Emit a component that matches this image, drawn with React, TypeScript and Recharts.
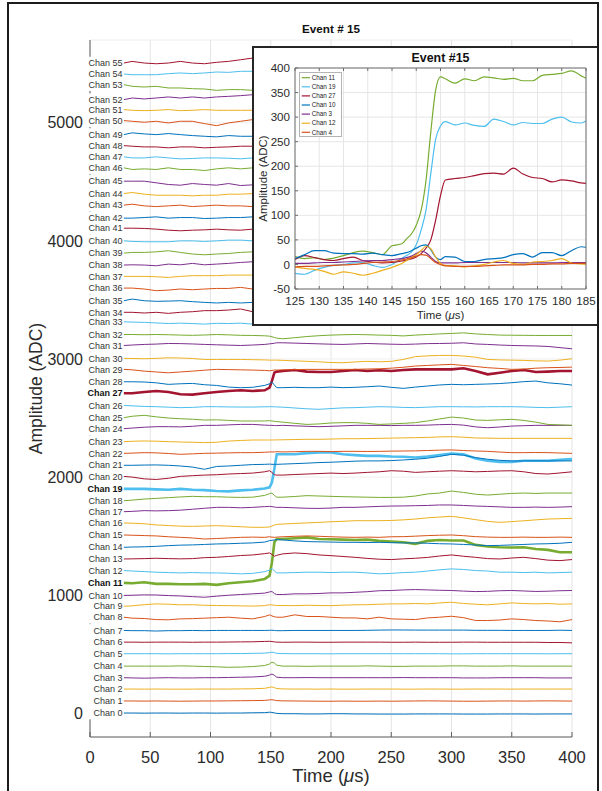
import React from 'react';
import { LineChart, Line, XAxis, YAxis, CartesianGrid, Legend } from 'recharts';

const FONT = '"Liberation Sans", Arial, Helvetica, sans-serif';
const INK = '#2b2b2b';
const AXIS = '#5f5f5f';

// MATLAB default colour order
const palette = ['#0072BD', '#D95319', '#EDB120', '#7E2F8E', '#77AC30', '#4DBEEE', '#A2142F'];

// Sample times (µs) shared by every channel trace
const times = [28, 35, 45, 55, 65, 75, 85, 95, 105, 115, 125, 135, 145, 149, 151, 153, 155, 160, 170, 180, 190, 200, 210, 220, 230, 240, 250, 260, 270, 280, 290, 300, 310, 320, 330, 340, 350, 360, 370, 380, 390, 400];

// Baseline-subtracted amplitude (ADC) per channel
const chan0 = [3, 3, 2, 3, 3, 2, 3, 3, 2, 3, 3, 5, 6, 10, 8, 4, 0, -3, -3, -5, -5, -3, -3, -5, -5, -6, -6, -6, -5, -5, -5, -5, -6, -6, -6, -5, -5, -5, -6, -5, -5, -5];
const chan1 = [5, 5, 4, 5, 4, 3, 4, 5, 5, 6, 7, 8, 10, 14, 16, 12, 8, 6, 5, 4, 3, 3, 4, 3, 3, 4, 3, 4, 5, 6, 5, 4, 3, 3, 4, 5, 5, 4, 5, 6, 5, 4];
const chan2 = [6, 6, 5, 6, 5, 5, 5, 6, 6, 6, 7, 8, 12, 20, 24, 18, 10, 7, 6, 6, 5, 6, 5, 5, 6, 6, 6, 5, 5, 6, 6, 5, 5, 6, 6, 6, 5, 6, 6, 6, 6, 6];
const chan3 = [2, 0, -2, 0, 2, 0, 0, 2, 2, 4, 6, 8, 14, 24, 33, 22, 6, 2, 2, 3, 2, 2, 2, 2, 2, 2, 2, 3, 2, 2, 2, 2, 0, 0, 0, 2, 2, 2, 2, 0, 0, 0];
const chan4 = [0, 0, 0, 0, 0, 2, 0, -3, -6, -10, -8, -4, 5, 18, 34, 26, 8, 0, 0, -2, 0, 0, 0, 0, 2, 0, -2, -2, 0, 0, 0, 2, 2, 0, 0, 0, 2, 0, 0, 0, 0, 0];
const chan5 = [5, 5, 5, 5, 4, 5, 5, 5, 5, 6, 6, 8, 10, 14, 18, 14, 8, 6, 5, 5, 5, 4, 5, 5, 5, 5, 5, 5, 5, 5, 5, 4, 4, 5, 5, 5, 5, 5, 5, 4, 5, 5];
const chan6 = [3, 3, 2, 3, 3, 3, 2, 3, 3, 4, 5, 6, 9, 10, 8, 5, 3, 2, 3, 3, 2, 2, 3, 3, 3, 3, 2, 2, 3, 2, 2, 2, 3, 3, 2, 2, 2, 2, 2, 0, 0, -3];
const chan7 = [2, 0, 0, -3, 0, 0, 2, 0, 2, 2, 2, 2, 2, 3, 4, 2, 0, 0, 2, 2, 2, 2, 2, 2, 3, 5, 6, 6, 5, 5, 5, 5, 5, 3, 3, 3, 2, 2, 2, 2, 4, 2];
const chan8 = [14, 6, 3, -6, -8, 0, 2, 6, 10, 14, 6, 0, 20, 34, 25, 18, 14, 14, 34, 20, 20, 14, 8, 8, 0, 14, 0, -3, -6, 8, 14, 22, 10, -14, -14, -10, 0, -6, -14, -18, -25, -6];
const chan9 = [7, 10, 20, 27, 24, 19, 20, 15, 13, 12, 10, 8, 12, 20, 18, 15, 13, 13, 12, 15, 13, 12, 16, 19, 20, 24, 27, 27, 30, 27, 35, 41, 30, 24, 19, 27, 35, 30, 27, 30, 24, 27];
const chan10 = [-2, 0, 3, 2, -3, -6, -12, -17, -8, 0, 6, 12, 18, 28, 31, 15, 6, 6, 12, 12, 15, 20, 20, 25, 30, 38, 40, 45, 48, 45, 42, 40, 35, 31, 33, 38, 40, 36, 32, 34, 38, 40];
const chan11 = [5, 2, 10, -4, -4, -7, -7, -4, -12, 2, 10, 18, 38, 66, 178, 348, 376, 376, 382, 390, 376, 374, 371, 368, 371, 360, 354, 349, 335, 360, 368, 363, 363, 326, 312, 306, 304, 306, 292, 284, 264, 264];
const chan12 = [9, 5, 0, -5, -8, -11, -8, -11, -11, -14, -19, -15, 0, 12, 28, 5, -11, -11, -8, -5, -5, -8, -5, -5, -11, -19, -15, -8, -5, 5, 15, 23, 18, 9, 5, -5, -5, -8, -5, -11, -8, -5];
const chan13 = [7, 8, 10, 13, 10, 8, 10, 18, 21, 28, 36, 41, 52, 58, 45, 30, 38, 50, 58, 52, 41, 35, 28, 21, 12, 5, 2, 8, 13, 20, 32, 41, 30, 21, 10, 7, 15, 21, 10, -3, -7, 2];
const chan14 = [6, 8, 10, 14, 20, 24, 26, 30, 34, 36, 40, 43, 50, 62, 65, 68, 71, 68, 60, 54, 52, 50, 48, 48, 46, 48, 45, 43, 43, 40, 36, 34, 30, 25, 20, 22, 26, 30, 34, 36, 40, 48];
const chan15 = [10, 8, 5, 2, -5, -10, -15, -24, -20, -15, -10, -8, -10, -5, -8, -10, -8, -5, -1, 2, -1, -5, -8, -10, -8, -10, -5, -4, 0, 5, 8, 10, 4, -4, -8, -10, -10, -8, -10, -10, -8, -10];
const chan16 = [12, 10, 5, -5, -10, -15, -17, -14, -11, -15, -20, -25, -25, -22, -15, -5, 0, 3, 8, 12, 17, 22, 26, 31, 31, 31, 33, 38, 45, 55, 62, 68, 55, 40, 25, 17, 23, 30, 38, 45, 48, 51];
const chan17 = [7, 10, 16, 14, 16, 20, 28, 36, 44, 44, 40, 44, 50, 52, 50, 46, 44, 44, 40, 36, 35, 38, 44, 44, 48, 52, 55, 56, 58, 60, 64, 64, 60, 55, 52, 48, 44, 44, 46, 44, 46, 50];
const chan18 = [0, 5, 14, 20, 26, 32, 37, 34, 34, 30, 28, 30, 45, 60, 65, 45, 30, 30, 36, 43, 40, 37, 34, 32, 30, 28, 28, 30, 40, 57, 65, 82, 70, 55, 48, 55, 62, 65, 62, 65, 65, 65];
const chan19 = [0, 0, 0, -4, -7, 0, -7, -10, -18, -21, -12, -7, 4, 13, 55, 170, 294, 294, 294, 303, 308, 308, 294, 286, 280, 280, 274, 272, 266, 274, 286, 300, 294, 258, 238, 229, 229, 238, 238, 238, 246, 252];
const chan20 = [6, 0, -15, -20, -10, 6, 12, 17, 20, 26, 30, 34, 45, 54, 40, 20, 17, 17, 22, 26, 30, 34, 30, 34, 40, 45, 54, 50, 40, 45, 50, 54, 50, 45, 48, 52, 54, 45, 30, 26, 35, 45];
const chan21 = [0, 0, 2, 3, 0, -6, -15, -34, -10, -6, 0, 6, 8, 10, 8, 8, 8, 10, 14, 18, 23, 26, 30, 35, 37, 37, 40, 45, 51, 60, 75, 93, 85, 65, 51, 42, 37, 37, 38, 37, 37, 37];
const chan22 = [1, 3, 7, 5, 0, -7, -3, 1, 3, 5, 7, 7, 10, 13, 13, 13, 15, 13, 15, 18, 18, 16, 18, 18, 17, 18, 20, 21, 22, 25, 28, 30, 25, 21, 18, 12, 7, 7, 8, 7, 4, 1];
const chan23 = [0, 3, 6, 4, 0, -3, -5, -8, -5, 5, 10, 14, 14, 14, 14, 15, 15, 16, 18, 20, 20, 22, 25, 25, 26, 28, 30, 32, 34, 36, 40, 42, 38, 31, 30, 28, 28, 28, 28, 28, 28, 28];
const chan24 = [10, 15, 22, 27, 27, 25, 30, 38, 38, 42, 46, 46, 40, 38, 38, 36, 36, 38, 34, 30, 27, 30, 34, 38, 38, 38, 36, 38, 38, 40, 44, 46, 40, 25, 18, 24, 32, 35, 38, 38, 38, 38];
const chan25 = [3, 15, 23, 10, 0, -6, -10, -17, -15, -20, -25, -25, -25, -22, -25, -28, -30, -35, -45, -54, -50, -42, -39, -39, -45, -54, -50, -45, -39, -25, -8, 8, 0, -17, -20, -15, -11, -20, -35, -54, -58, -62];
const chan26 = [7, 3, -2, -4, -8, -12, -10, -4, -4, -6, -7, -7, -5, -4, -4, -5, -6, -8, -15, -22, -26, -20, -14, -12, -8, -4, -6, -10, -12, -8, -4, -4, -5, -6, -4, -4, -4, -6, -10, -12, -8, -4];
const chan27 = [10, 10, 21, 29, 21, 1, -2, 10, 21, 29, 35, 29, 35, 57, 114, 184, 193, 198, 207, 193, 190, 190, 198, 207, 198, 204, 198, 207, 212, 212, 212, 212, 221, 198, 170, 184, 198, 207, 190, 193, 198, 198];
const chan28 = [7, 7, 5, -2, -15, -10, -7, -18, -24, -38, -43, -40, -24, -10, 5, -20, -43, -43, -40, -43, -43, -38, -43, -40, -35, -29, -40, -49, -38, -29, -20, -15, -18, -15, -12, -8, -1, 8, 13, -2, -10, -21];
const chan29 = [12, 8, -3, -10, -17, -10, -3, 5, 12, 10, 8, 6, 3, 0, 3, 6, 6, 8, 10, 12, 12, 12, 12, 12, 15, 17, 22, 30, 40, 45, 50, 54, 45, 36, 26, 20, 12, 15, 22, 26, 28, 31];
const chan30 = [5, 4, 2, 5, 10, 8, 4, -4, -4, -4, -4, -6, -8, -10, -10, -10, -10, -12, -16, -20, -24, -30, -32, -25, -20, -24, -20, -4, 20, 26, 30, 30, 25, 15, -4, -8, -10, -12, -16, -18, -10, 2];
const chan31 = [14, 18, 23, 26, 31, 30, 27, 23, 20, 17, 14, 18, 23, 28, 30, 33, 37, 37, 34, 31, 28, 25, 23, 27, 31, 28, 25, 23, 26, 30, 31, 33, 37, 27, 23, 18, 14, 12, 10, 6, -4, -14];
const chan32 = [7, 7, 5, 7, 5, 2, 0, 3, 7, 4, 0, -1, -4, -7, -12, -18, -24, -29, -20, -10, -3, 2, 5, 7, 5, 2, 0, -5, 2, 7, 12, 16, 21, 12, 7, 2, 1, 0, -1, -1, -1, -1];
const chan33 = [15, 12, 10, 5, 0, 3, 0, -5, 2, 0, 3, -5, -3, 0, 3, 0, -3, -5, -3, 0, 0, 2, 0, -3, 0, -2, 0, 2, 0, -3, -5, -8, -5, -3, -8, -15, -18, -15, -12, -15, -10, -5];
// Upper channels: early part of the record (28–145 µs)
const chan34 = [-5, -5, -11, -5, -14, -5, 0, 9, 9, 14, 23, 0, 3];
const chan35 = [-7, 7, -7, -12, -10, -7, -15, -21, -26, -21, -26, -21, -20];
const chan36 = [0, 0, -8, -22, -17, -8, -14, -8, -3, -3, 6, -8, -5];
const chan37 = [-1, -1, -1, -4, -10, -1, 5, 5, 5, 10, 10, 10, 8];
const chan38 = [-5, -3, -5, -11, 3, -3, 9, -3, 3, 9, 17, 23, 20];
const chan39 = [-4, 2, 2, 7, 16, 2, -12, -18, -12, -7, 2, 7, 5];
const chan40 = [0, -5, -8, -8, -8, 0, 0, -5, 0, 6, 6, 0, 0];
const chan41 = [7, 7, 5, -1, -10, -15, -10, -7, -1, -7, -10, -1, -3];
const chan42 = [-8, -8, -3, 3, -8, -3, -3, -11, -8, -3, -3, 3, 0];
const chan43 = [2, 10, -4, -10, -4, 2, -10, -4, 2, -4, -4, -10, -6];
const chan44 = [0, 9, -5, -14, -14, -14, -19, -14, -14, -5, -5, 0, 2];
const chan45 = [5, 5, 5, -9, -23, -29, -15, -23, -29, -15, -32, -26, -25];
const chan46 = [18, 4, 9, 4, 18, 4, 4, -5, 9, 18, 9, 18, 12];
const chan47 = [11, 2, 2, 11, 2, -6, -3, 2, 2, -1, -6, 2, 0];
const chan48 = [6, 1, -5, -5, -13, -5, -5, -13, -8, -5, 1, 1, 0];
const chan49 = [-1, 14, 5, -1, 8, -1, -9, -15, -20, -9, -15, -15, -12];
const chan50 = [18, 12, 4, 12, -2, 12, 12, -8, -25, -2, 12, 26, 20];
const chan51 = [11, 5, 2, 5, 11, 2, 5, 11, 5, 5, 5, 5, 5];
const chan52 = [-5, 9, 1, 9, 18, 9, 18, 9, 18, 23, 29, 37, 35];
const chan53 = [22, 8, 2, 8, -6, -6, -12, -15, -26, -20, -20, -26, -25];
const chan54 = [12, 6, 6, 6, 15, 21, 15, 21, 29, 26, 35, 35, 32];
const chan55 = [5, 19, 5, -1, 5, 19, 5, -1, 11, 19, 33, 47, 45];

const channelTraces = [
  chan0, chan1, chan2, chan3, chan4, chan5, chan6, chan7, chan8, chan9,
  chan10, chan11, chan12, chan13, chan14, chan15, chan16, chan17, chan18, chan19,
  chan20, chan21, chan22, chan23, chan24, chan25, chan26, chan27, chan28, chan29,
  chan30, chan31, chan32, chan33, chan34, chan35, chan36, chan37, chan38, chan39,
  chan40, chan41, chan42, chan43, chan44, chan45, chan46, chan47, chan48, chan49,
  chan50, chan51, chan52, chan53, chan54, chan55,
];

const highlighted = [11, 19, 27];
const CHANNEL_SPACING = 100; // vertical display offset between channels (ADC)

const xTicks = [0, 50, 100, 150, 200, 250, 300, 350, 400];
const yTicks = [0, 1000, 2000, 3000, 4000, 5000];

// Zoomed view around the trigger
const insetTimes = [125, 127, 129, 131, 133, 135, 137, 139, 141, 143, 145, 147, 148, 149, 150, 151, 152, 153, 154, 155, 156, 158, 160, 162, 164, 166, 168, 170, 172, 174, 176, 178, 180, 182, 184, 185];
const insetChan11 = [16, 12, 14, 10, 13, 18, 24, 27, 24, 20, 38, 42, 52, 62, 80, 110, 170, 270, 355, 382, 378, 369, 378, 374, 382, 380, 377, 379, 374, 374, 385, 387, 389, 394, 384, 379];
const insetChan19 = [-18, -20, -12, -6, -2, 0, 3, 4, -2, -6, 0, 12, 18, 25, 40, 70, 110, 185, 255, 282, 291, 284, 288, 283, 281, 296, 291, 284, 289, 287, 287, 296, 300, 290, 288, 292];
const insetChan27 = [10, 18, 14, 10, 8, 12, 15, 8, 5, 3, 4, 7, 9, 11, 15, 22, 33, 50, 90, 140, 172, 175, 177, 181, 185, 186, 184, 196, 184, 177, 175, 168, 172, 170, 166, 165];
const insetChan10 = [12, 20, 28, 28, 23, 22, 22, 21, 23, 20, 18, 22, 24, 28, 33, 38, 40, 30, 15, 10, 16, 15, 6, 6, 10, 12, 14, 20, 22, 15, 24, 24, 18, 28, 36, 35];
const insetChan3 = [2, 2, 3, 4, 4, 5, 6, 7, 8, 8, 10, 12, 14, 17, 22, 27, 24, 15, 6, 3, 3, 3, 4, 4, 4, 4, 4, 4, 3, 3, 3, 3, 4, 4, 4, 4];
const insetChan12 = [-5, -8, -10, -14, -20, -15, -18, -22, -18, -12, -6, 2, 8, 14, 20, 28, 37, 32, 15, 2, -2, -3, -5, -3, 0, 5, 8, 2, 0, 5, 6, 8, 12, 3, 1, 0];
const insetChan4 = [-5, -4, -4, -3, -2, -1, 0, 2, 4, 5, 6, 9, 11, 14, 17, 20, 19, 12, 4, 0, -3, -4, -4, -4, -3, -2, -1, -1, -1, 0, 0, 1, 1, 2, 2, 2];

const insetSeries = [
  { name: 'Chan 11', values: insetChan11, color: '#77AC30' },
  { name: 'Chan 19', values: insetChan19, color: '#4DBEEE' },
  { name: 'Chan 27', values: insetChan27, color: '#A2142F' },
  { name: 'Chan 10', values: insetChan10, color: '#0072BD' },
  { name: 'Chan 3', values: insetChan3, color: '#7E2F8E' },
  { name: 'Chan 12', values: insetChan12, color: '#EDB120' },
  { name: 'Chan 4', values: insetChan4, color: '#D95319' },
];
const insetXTicks = [125, 130, 135, 140, 145, 150, 155, 160, 165, 170, 175, 180, 185];
const insetYTicks = [-50, 0, 50, 100, 150, 200, 250, 300, 350, 400];

const mainData = times.map((t, i) => {
  const row: Record<string, number> = { t };
  channelTraces.forEach((trace, ch) => {
    if (i < trace.length) row[`c${ch}`] = ch * CHANNEL_SPACING + trace[i];
  });
  return row;
});

const insetData = insetTimes.map((t, i) => {
  const row: Record<string, number> = { t };
  insetSeries.forEach((s, k) => {
    row[`s${k}`] = s.values[i];
  });
  return row;
});

// ---- main axes renderers ----
const renderXTick = (p: any) => (
  <g>
    <line x1={p.x} x2={p.x} y1={p.y} y2={p.y - 5} stroke={AXIS} strokeWidth={1} />
    <text x={p.x} y={p.y + 26} textAnchor="middle" fontSize={16.5} fill={INK} fontFamily={FONT}>
      {p.payload.value}
    </text>
  </g>
);

const renderYTick = (p: any) => (
  <text x={p.x - 7} y={p.y + 5.8} textAnchor="end" fontSize={16} fill={INK} fontFamily={FONT}>
    {p.payload.value}
  </text>
);

const renderXTitle = (p: any) => {
  const vb = p.viewBox;
  return (
    <text x={vb.x + vb.width / 2} y={vb.y + 45} textAnchor="middle" fontSize={18.5} fill={INK} fontFamily={FONT}>
      Time (<tspan fontStyle="italic">μ</tspan>s)
    </text>
  );
};

const renderYTitle = (p: any) => {
  const vb = p.viewBox;
  const cx = vb.x + 42;
  const cy = vb.y + vb.height / 2;
  return (
    <text x={cx} y={cy} transform={`rotate(-90 ${cx} ${cy})`} textAnchor="middle" fontSize={17.5} fill={INK} fontFamily={FONT}>
      Amplitude (ADC)
    </text>
  );
};

const renderMainTitle = (p: any) => {
  const vb = p.viewBox;
  return (
    <text x={vb.x + vb.width / 2} y={vb.y - 6} textAnchor="middle" fontSize={11.7} fontWeight={700} fill="#111" fontFamily={FONT}>
      Event # 15
    </text>
  );
};

// "Chan N" tag drawn at the start of each trace, on a white backing
const makeChanLabel = (ch: number) => (p: any) => {
  if (p.index !== 0) return null;
  const vb = p.viewBox || {};
  const x = vb.x ?? p.x;
  const y = vb.y ?? p.y;
  if (x == null || y == null) return null;
  const bold = highlighted.includes(ch);
  return (
    <g>
      <rect x={86} y={y - 6.3} width={Math.max(0, x - 86.3)} height={12.6} fill="#ffffff" />
      <text x={x - 1.2} y={y + 3.2} textAnchor="end" fontSize={9} fontWeight={bold ? 700 : 400} fill={bold ? '#111' : '#333'} fontFamily={FONT}>
        {`Chan ${ch}`}
      </text>
    </g>
  );
};

// ---- inset renderers ----
const INSET_AXIS = '#6e6e6e';

const renderInsetXTick = (p: any) => (
  <g>
    <line x1={p.x} x2={p.x} y1={p.y} y2={p.y - 3} stroke={INSET_AXIS} />
    <text x={p.x} y={p.y + 16} textAnchor="middle" fontSize={11.6} fill={INK} fontFamily={FONT}>
      {p.payload.value}
    </text>
  </g>
);
const renderInsetTopTick = (p: any) => (
  <line x1={p.x} x2={p.x} y1={p.y} y2={p.y + 3} stroke={INSET_AXIS} />
);
const renderInsetYTick = (p: any) => (
  <g>
    <line x1={p.x} x2={p.x + 3} y1={p.y} y2={p.y} stroke={INSET_AXIS} />
    <text x={p.x - 5} y={p.y + 4.1} textAnchor="end" fontSize={11.6} fill={INK} fontFamily={FONT}>
      {p.payload.value}
    </text>
  </g>
);
const renderInsetRightTick = (p: any) => (
  <line x1={p.x} x2={p.x - 3} y1={p.y} y2={p.y} stroke={INSET_AXIS} />
);

const renderInsetTitle = (p: any) => {
  const vb = p.viewBox;
  return (
    <text x={vb.x + vb.width / 2} y={vb.y - 5} textAnchor="middle" fontSize={12.4} fontWeight={700} fill="#111" fontFamily={FONT}>
      Event #15
    </text>
  );
};
const renderInsetXTitle = (p: any) => {
  const vb = p.viewBox;
  return (
    <text x={vb.x + vb.width / 2} y={vb.y + 30} textAnchor="middle" fontSize={11.4} fill={INK} fontFamily={FONT}>
      Time (<tspan fontStyle="italic">μ</tspan>s)
    </text>
  );
};
const renderInsetYTitle = (p: any) => {
  const vb = p.viewBox;
  const cx = vb.x + 13;
  const cy = vb.y + vb.height / 2;
  return (
    <text x={cx} y={cy} transform={`rotate(-90 ${cx} ${cy})`} textAnchor="middle" fontSize={11.5} fill={INK} fontFamily={FONT}>
      Amplitude (ADC)
    </text>
  );
};

const renderInsetLegend = (p: any) => {
  const payload: any[] = p.payload || [];
  // keep the plotting order of the series
  const items = insetSeries
    .map((s) => payload.find((it) => it.value === s.name))
    .filter(Boolean);
  return (
    <svg width={43} height={65} style={{ display: 'block' }}>
      <rect x={0.5} y={0.5} width={42} height={64} fill="#fff" stroke="#b4b4b4" />
      {items.map((it, i) => (
        <g key={String(it.value)}>
          <line x1={2.7} x2={11} y1={5.7 + i * 9.1} y2={5.7 + i * 9.1} stroke={it.color} strokeWidth={1.2} />
          <text x={12.7} y={5.7 + i * 9.1 + 2.2} fontSize={6.3} fill="#222" fontFamily={FONT}>
            {it.value}
          </text>
        </g>
      ))}
    </svg>
  );
};

export default function App() {
  return (
    <div style={{ position: 'absolute', left: 0, top: 0, width: 602, height: 791, overflow: 'hidden', background: '#fff' }}>
      <div style={{ position: 'absolute', left: 0, top: 0 }}>
        <LineChart width={602} height={791} data={mainData} margin={{ top: 39, right: 30, bottom: 0, left: 0 }}>
          <CartesianGrid vertical horizontal={false} stroke="#e4e4e4" />
          <CartesianGrid vertical={false} horizontal stroke="#eeeeee" />
          <XAxis
            dataKey="t" type="number" domain={[0, 400]} ticks={xTicks} interval={0}
            height={54} tickSize={0} tickMargin={0} tickLine={false}
            axisLine={{ stroke: AXIS, strokeWidth: 1 }} tick={renderXTick} label={renderXTitle}
          />
          <XAxis
            xAxisId="title" orientation="top" dataKey="t" type="number" domain={[0, 400]} ticks={xTicks}
            height={1} axisLine={false} tickLine={false} tick={false} label={renderMainTitle}
          />
          <YAxis
            type="number" domain={[-200, 5700]} ticks={yTicks} interval={0}
            width={90} tickSize={0} tickMargin={0} tickLine={false}
            axisLine={{ stroke: AXIS, strokeWidth: 1 }} tick={renderYTick} label={renderYTitle}
          />
          {channelTraces.map((_, ch) => (
            <Line
              key={ch}
              type="linear"
              dataKey={`c${ch}`}
              name={`Chan ${ch}`}
              stroke={palette[ch % palette.length]}
              strokeWidth={highlighted.includes(ch) ? 2.6 : 1}
              dot={false}
              activeDot={false}
              isAnimationActive={false}
              label={makeChanLabel(ch)}
            />
          ))}
        </LineChart>
      </div>

      <div
        style={{
          position: 'absolute', left: 252, top: 46, width: 347, height: 280,
          border: '2px solid #262626', boxSizing: 'border-box', background: '#fff',
        }}
      >
        <LineChart width={343} height={276} data={insetData} margin={{ top: 19, right: 10, bottom: 0, left: 0 }}>
          <CartesianGrid stroke="#e6e6e6" />
          <XAxis
            dataKey="t" type="number" domain={[125, 185]} ticks={insetXTicks} interval={0}
            height={35} tickSize={0} tickMargin={0} tickLine={false}
            axisLine={{ stroke: INSET_AXIS }} tick={renderInsetXTick} label={renderInsetXTitle}
          />
          <XAxis
            xAxisId="top" orientation="top" dataKey="t" type="number" domain={[125, 185]} ticks={insetXTicks} interval={0}
            height={1} tickSize={0} tickMargin={0} tickLine={false}
            axisLine={{ stroke: INSET_AXIS }} tick={renderInsetTopTick} label={renderInsetTitle}
          />
          <YAxis
            type="number" domain={[-50, 400]} ticks={insetYTicks} interval={0}
            width={41} tickSize={0} tickMargin={0} tickLine={false}
            axisLine={{ stroke: INSET_AXIS }} tick={renderInsetYTick} label={renderInsetYTitle}
          />
          <YAxis
            yAxisId="right" orientation="right" type="number" domain={[-50, 400]} ticks={insetYTicks} interval={0}
            width={1} tickSize={0} tickMargin={0} tickLine={false}
            axisLine={{ stroke: INSET_AXIS }} tick={renderInsetRightTick}
          />
          <Legend
            layout="vertical" align="center" verticalAlign="middle"
            content={renderInsetLegend}
            wrapperStyle={{ left: 45, top: 24, width: 43, height: 65 }}
          />
          {insetSeries.map((s, k) => (
            <Line
              key={s.name}
              type="monotone"
              dataKey={`s${k}`}
              name={s.name}
              stroke={s.color}
              strokeWidth={1.2}
              dot={false}
              activeDot={false}
              isAnimationActive={false}
            />
          ))}
        </LineChart>
      </div>

      <div
        style={{
          position: 'absolute', left: 7, top: 2, width: 592, height: 820,
          border: '2px solid #1c1c1c', boxSizing: 'border-box', pointerEvents: 'none',
        }}
      />
    </div>
  );
}
